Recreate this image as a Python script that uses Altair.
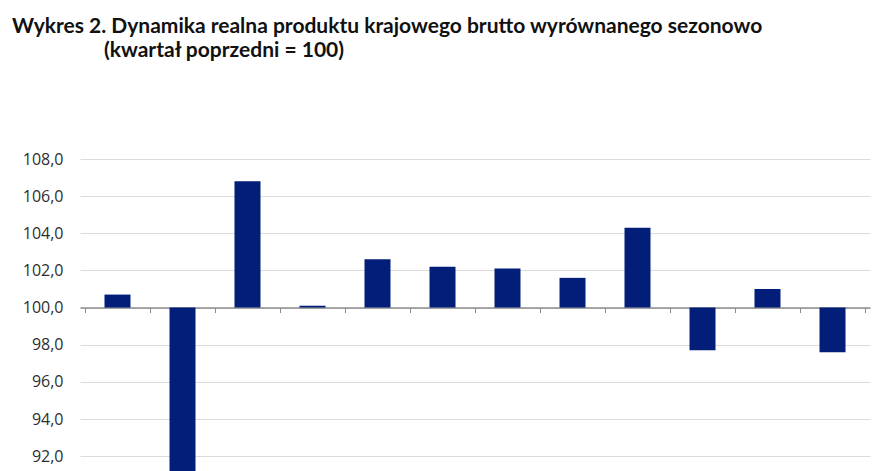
import altair as alt
import pandas as pd

categories = ["Q1", "Q2", "Q3", "Q4", "Q5", "Q6", "Q7", "Q8", "Q9", "Q10", "Q11", "Q12"]
values = [100.7, 90.6, 106.8, 100.1, 102.6, 102.2, 102.1, 101.6, 104.3, 97.7, 101.0, 97.6]
y_ticks = [92, 94, 96, 98, 100, 102, 104, 106, 108]
title1 = "Wykres 2. Dynamika realna produktu krajowego brutto wyrównanego sezonowo"
title2 = "(kwartał poprzedni = 100)"

df = pd.DataFrame({"cat": categories, "value": values, "idx": [i + 0.5 for i in range(len(categories))]})

W, H = 790, 312
ymin, ymax = 91.2, 108.0
y100 = H * (ymax - 100) / (ymax - ymin)

yscale = alt.Scale(domain=[ymin, ymax], nice=False, zero=False)
xscale = alt.Scale(domain=[0, len(categories)], nice=False, zero=False)

bars = alt.Chart(df).mark_bar(color="#021e78", size=26, clip=True).encode(
    x=alt.X("idx:Q", scale=xscale, axis=alt.Axis(
        values=list(range(len(categories) + 1)), labels=False, title=None, grid=False,
        domainColor="#8c8c8c", domainWidth=1.5, tickColor="#8c8c8c", tickSize=5, tickWidth=1,
        offset=-(H - y100))),
    y=alt.Y("value:Q", scale=yscale, axis=alt.Axis(
        values=y_ticks, title=None, grid=True, gridColor="#dcdcdc", gridWidth=1,
        domain=False, ticks=False, labelPadding=17, labelFontSize=16, labelColor="#2e2e2e",
        labelFont="Open Sans",
        labelExpr="replace(format(datum.value, '.1f'), '.', ',')")),
    y2=alt.datum(100),
)

t1 = alt.Chart(pd.DataFrame({"t": [title1]})).mark_text(
    align="left", baseline="alphabetic", font="Lato", fontWeight="bold", fontSize=21, color="#111111"
).encode(text="t:N", x=alt.value(-68), y=alt.value(33 - 159))

t2 = alt.Chart(pd.DataFrame({"t": [title2]})).mark_text(
    align="left", baseline="alphabetic", font="Lato", fontWeight="bold", fontSize=21, color="#111111"
).encode(text="t:N", x=alt.value(104 - 80), y=alt.value(57 - 159))

chart = alt.layer(bars, t1, t2).properties(
    width=W, height=H,
    autosize=alt.AutoSizeParams(type="none"),
    padding={"left": 80, "top": 159, "right": 24, "bottom": 0},
).configure_view(stroke=None)

chart.save("out.html", embed_options={"renderer": "svg", "actions": False})
